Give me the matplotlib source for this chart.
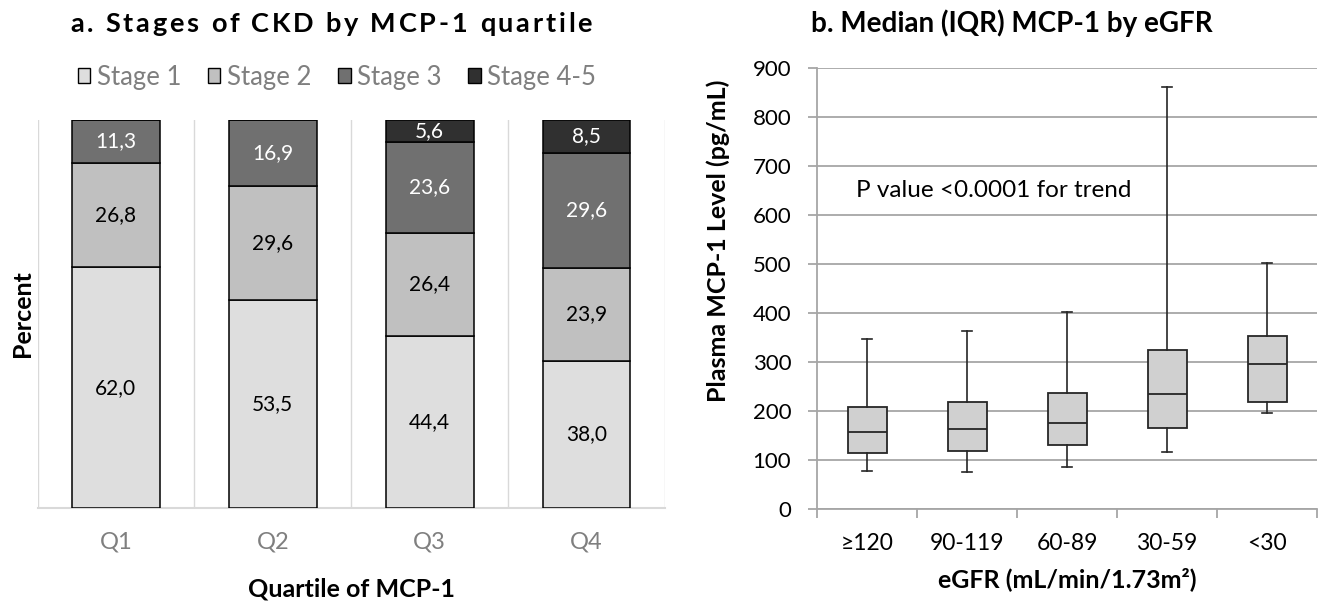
import numpy as np
import matplotlib
matplotlib.use('Agg')
import matplotlib.pyplot as plt
from matplotlib.patches import Patch

plt.rcParams['font.family'] = ['Lato', 'DejaVu Sans']

# panel a data
quartiles = ['Q1', 'Q2', 'Q3', 'Q4']
stages = ['Stage 1', 'Stage 2', 'Stage 3', 'Stage 4-5']
stage1 = [62.0, 53.5, 44.4, 38.0]
stage2 = [26.8, 29.6, 26.4, 23.9]
stage3 = [11.3, 16.9, 23.6, 29.6]
stage45 = [0.0, 0.0, 5.6, 8.5]
stage_colors = ['#dedede', '#c0c0c0', '#707070', '#303030']
label_colors = ['black', 'black', 'white', 'white']

# panel b data
egfr = ['\u2265120', '90-119', '60-89', '30-59', '<30']
whis_lo = [78, 76, 86, 117, 195]
q1 = [115, 119, 131, 165, 219]
med = [158, 163, 176, 234, 295]
q3 = [208, 218, 237, 324, 353]
whis_hi = [346, 364, 402, 861, 502]

W, H = 1324., 610.

def spaced_text(fig, xc, ybase, s, total_px, **kw):
  """Draw text centred at xc with extra letter spacing so it spans total_px pixels"""
  r = fig.canvas.get_renderer()
  def width(txt):
    t = fig.text(0, 0, txt, **kw); w = t.get_window_extent(r).width; t.remove()
    return w
  space_w = width('a a') - width('aa')
  widths = [space_w if ch == ' ' else width(ch) for ch in s]
  gap = (total_px - sum(widths)) / (len(s) - 1)
  x = xc*W - total_px/2.
  for ch, w in zip(s, widths):
    if ch != ' ': fig.text(x/W, ybase, ch, ha='left', va='baseline', **kw)
    x += w + gap

fig = plt.figure(figsize=(W/100, H/100), dpi=100)

# ---- a. stacked bars
ax = fig.add_axes([37.5/W, 1-508/H, (665-37.5)/W, (508-120)/H])
x = np.arange(len(quartiles))
bottom = np.zeros(len(quartiles))
for vals, col, tcol in zip([stage1, stage2, stage3, stage45], stage_colors, label_colors):
  vals = np.array(vals)
  ax.bar(x, vals, 0.56, bottom=bottom, color=col, edgecolor='black', linewidth=1.1, zorder=3)
  for xi, b, v in zip(x, bottom, vals):
    if v > 0:
      ax.text(xi, b+v/2., ('%.1f' % v).replace('.', ','), ha='center', va='center',
              fontsize=15, color=tcol, zorder=4)
  bottom += vals
ax.set_xlim(-0.5, 3.5); ax.set_ylim(0, 100)
for xb in np.arange(-0.5, 4.0, 1.0):
  ax.axvline(xb, color='#d9d9d9', linewidth=1.0, zorder=1)
for s in ['top', 'right', 'left']: ax.spines[s].set_visible(False)
ax.spines['bottom'].set_color('#d9d9d9'); ax.spines['bottom'].set_linewidth(1.5)
ax.set_yticks([])
ax.set_xticks(x)
ax.set_xticklabels(quartiles, fontsize=17, color='#7f7f7f')
ax.tick_params(axis='x', length=0, pad=17)
ax.set_xlabel('Quartile of MCP-1', fontsize=18, fontweight='bold')
ax.xaxis.set_label_coords(0.5, (508-578)/388.)
ax.set_ylabel('Percent', fontsize=18, fontweight='bold')
ax.yaxis.set_label_coords(-0.006, 0.5)
handles = [Patch(facecolor=c, edgecolor='black', linewidth=1.0) for c in stage_colors]
fig.legend(handles, stages, loc='center', bbox_to_anchor=(337/W, 1-77/H), ncol=4,
           frameon=False, fontsize=18.5, labelcolor='#7f7f7f', handlelength=0.48, handleheight=0.48,
           handletextpad=0.25, columnspacing=1.05, borderpad=0)
spaced_text(fig, 331/W, 1-32/H, 'a. Stages of CKD by MCP-1 quartile', 522,
            fontsize=19.5, fontweight='bold')

# ---- b. box plot
bx = fig.add_axes([817/W, 1-509/H, 500/W, (509-68)/H])
stats = []
for i in range(len(egfr)):
  stats.append(dict(med=med[i], q1=q1[i], q3=q3[i], whislo=whis_lo[i], whishi=whis_hi[i], fliers=[]))
bx.bxp(stats, positions=range(len(egfr)), widths=0.39, capwidths=0.093, patch_artist=True,
       showfliers=False,
       boxprops=dict(facecolor='#d0d0d0', edgecolor='#262626', linewidth=1.3),
       medianprops=dict(color='#262626', linewidth=1.3),
       whiskerprops=dict(color='#262626', linewidth=1.2),
       capprops=dict(color='#262626', linewidth=1.2), zorder=3)
bx.set_xlim(-0.5, 4.5); bx.set_ylim(0, 900)
bx.set_yticks(np.arange(0, 901, 100))
bx.yaxis.grid(True, color='#a6a6a6', linewidth=1.3, zorder=0)
bx.set_axisbelow(True)
bx.set_xticks(range(len(egfr)))
bx.set_xticklabels(egfr)
bx.set_xticks(np.arange(-0.5, 5.0, 1.0), minor=True)
bx.tick_params(axis='x', which='major', length=0, pad=17, labelsize=16.5)
bx.tick_params(axis='x', which='minor', length=6.5, width=1.3, color='#a6a6a6')
bx.tick_params(axis='y', length=6.5, width=1.3, color='#a6a6a6', labelsize=16, pad=12)
for s in ['top', 'right']: bx.spines[s].set_visible(False)
for s in ['left', 'bottom']:
  bx.spines[s].set_color('#a6a6a6'); bx.spines[s].set_linewidth(1.3)
bx.text(-0.11, 650, 'P value <0.0001 for trend', ha='left', va='center', fontsize=17.5)
bx.set_xlabel('eGFR (mL/min/1.73m\u00b2)', fontsize=18, fontweight='bold')
bx.xaxis.set_label_coords(0.5, (509-567)/441.)
bx.set_ylabel('Plasma MCP-1 Level (pg/mL)', fontsize=18, fontweight='bold')
bx.yaxis.set_label_coords(-0.174, 0.608)
fig.text(1012/W, 1-32/H, 'b. Median (IQR) MCP-1 by eGFR', ha='center', va='baseline',
         fontsize=20, fontweight='bold')

fig.savefig('out.png', dpi=100)
